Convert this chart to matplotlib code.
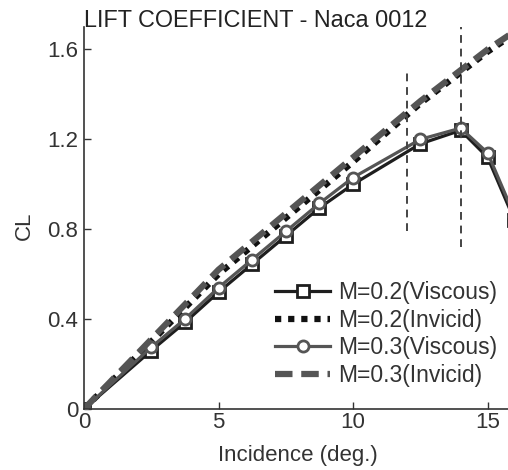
import matplotlib
matplotlib.use("Agg")
import matplotlib.pyplot as plt

plt.rcParams["font.family"] = ["Liberation Sans", "DejaVu Sans"]

# Incidence (deg.) sampled for the viscous runs
alpha_visc = [0, 2.5, 3.75, 5, 6.25, 7.5, 8.75, 10, 12.5, 14, 15, 16]
cl_m02_visc = [0, 0.26, 0.385, 0.52, 0.645, 0.77, 0.895, 1.0, 1.18, 1.24, 1.12, 0.84]
cl_m03_visc = [0, 0.275, 0.40, 0.54, 0.665, 0.79, 0.915, 1.03, 1.20, 1.25, 1.14, 0.86]

# Inviscid runs
alpha_inv = [0, 2.5, 5, 7.5, 10, 12.5, 15, 16]
cl_m02_inv = [0, 0.30, 0.60, 0.85, 1.10, 1.36, 1.59, 1.67]
cl_m03_inv = [0, 0.31, 0.62, 0.87, 1.12, 1.37, 1.60, 1.68]

# stall markers (vertical dashed lines)
stall_alpha = [12, 14]
stall_lo = [0.79, 0.72]
stall_hi = [1.51, 1.70]

labels = ["M=0.2(Viscous)", "M=0.2(Invicid)", "M=0.3(Viscous)", "M=0.3(Invicid)"]

W, H = 508, 470
fig = plt.figure(figsize=(W / 100, H / 100), dpi=100)
ax = fig.add_axes([84 / W, (H - 409) / H, 427 / W, 382 / H])

dark = "#1e1e1e"
grey = "#555555"
txt = "#333333"
fs = 16

ax.plot(alpha_visc, cl_m02_visc, "-", color=dark, lw=2.3, marker="s", ms=9,
        mfc="white", mec=dark, mew=2.0, label=labels[0])
ax.plot(alpha_inv, cl_m02_inv, color="#111111", lw=4.5, linestyle=(0, (1, 1.1)),
        label=labels[1])
ax.plot(alpha_visc, cl_m03_visc, "-", color=grey, lw=2.3, marker="o", ms=8,
        mfc="white", mec=grey, mew=2.0, label=labels[2])
ax.plot(alpha_inv, cl_m03_inv, color=grey, lw=4.5, linestyle=(0, (2.8, 1.4)),
        label=labels[3])

for a, lo, hi in zip(stall_alpha, stall_lo, stall_hi):
    ax.plot([a, a], [lo, hi], color="#444444", lw=1.4, linestyle=(0, (4, 3)))

ax.set_xlim(0, 15.87)
ax.set_ylim(0, 1.70)
ax.set_xticks([0, 5, 10, 15])
ax.set_yticks([0, 0.4, 0.8, 1.2, 1.6])
ax.set_xticklabels(["0", "5", "10", "15"])
ax.set_yticklabels(["0", "0.4", "0.8", "1.2", "1.6"])

for side in ["top", "right"]:
    ax.spines[side].set_visible(False)
for side in ["left", "bottom"]:
    ax.spines[side].set_color("#333333")
    ax.spines[side].set_linewidth(1.2)

ax.tick_params(direction="in", length=5, width=1.0, color="#333333",
               labelsize=fs, labelcolor=txt)
ax.tick_params(axis="y", pad=4)
ax.tick_params(axis="x", pad=2)

fig.text(84 / W, 1 - 27 / H, "LIFT COEFFICIENT - Naca 0012", fontsize=16.8,
         color="#222222", ha="left", va="baseline")
fig.text(297.5 / W, 1 - 455 / H, "Incidence (deg.)", fontsize=fs,
         color=txt, ha="center", va="center")
fig.text(24 / W, 1 - 226 / H, "CL", fontsize=fs, color=txt,
         rotation=90, ha="center", va="center")

leg = ax.legend(loc="upper left", bbox_to_anchor=(275 / W, 1 - 281 / H),
                bbox_transform=fig.transFigure, frameon=False, fontsize=16.5,
                handlelength=2.4, handletextpad=0.35, labelspacing=0.2,
                borderpad=0, borderaxespad=0)
for t in leg.get_texts():
    t.set_color(txt)

fig.savefig("out.png", dpi=100)
